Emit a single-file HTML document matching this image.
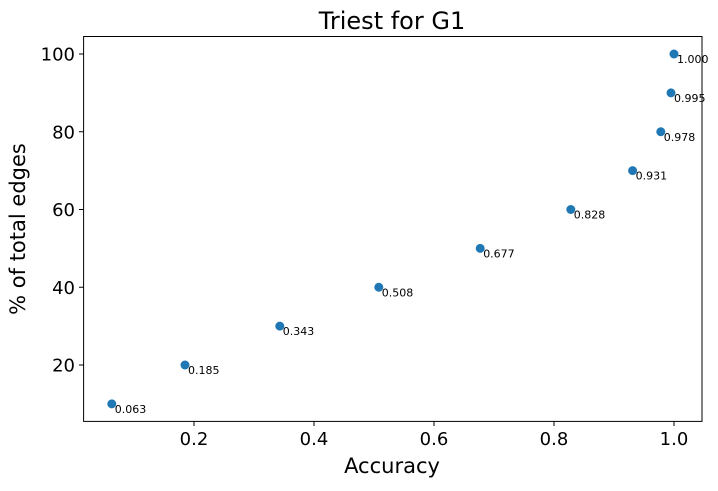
<!DOCTYPE html>
<html><head><meta charset="utf-8"><style>
html,body{margin:0;padding:0;background:#fff;}
svg text{font-family:"DejaVu Sans","Liberation Sans",sans-serif;fill:#000;}
</style></head><body>
<svg id="chart" width="718" height="486" xmlns="http://www.w3.org/2000/svg">
<text x="392" y="29" font-size="24" text-anchor="middle">Triest for G1</text>
<rect x="83.6" y="36.5" width="618.4" height="384.9" fill="none" stroke="#000" stroke-width="1"/>
<g id="xticks"></g><g id="yticks"></g><g id="points"></g>
<text x="392" y="473" font-size="21" text-anchor="middle">Accuracy</text>
<text transform="translate(25,229) rotate(-90)" font-size="21" text-anchor="middle">% of total edges</text>
</svg>
<script>
const accuracy=[0.063,0.185,0.343,0.508,0.677,0.828,0.931,0.978,0.995,1.000];
const edgesPct=[10,20,30,40,50,60,70,80,90,100];
const pointLabels=["0.063","0.185","0.343","0.508","0.677","0.828","0.931","0.978","0.995","1.000"];
const xTicks=[0.2,0.4,0.6,0.8,1.0];
const xTickLabels=["0.2","0.4","0.6","0.8","1.0"];
const yTicks=[20,40,60,80,100];
const yTickLabels=["20","40","60","80","100"];
const NS="http://www.w3.org/2000/svg";
const X=v=>74+600*v;
const Y=v=>442.75-3.8875*v;
function mk(tag,attrs,parent){const e=document.createElementNS(NS,tag);for(const k in attrs)e.setAttribute(k,attrs[k]);parent.appendChild(e);return e;}
const xg=document.getElementById('xticks'),yg=document.getElementById('yticks'),pg=document.getElementById('points');
xTicks.forEach((t,i)=>{
 const l=mk('line',{x1:X(t),x2:X(t),y1:421.4,y2:426,stroke:'#000'},xg);
 
 
 const tx=mk('text',{x:X(t),y:445,'font-size':'18','text-anchor':'middle'},xg);tx.textContent=xTickLabels[i];
 
 
});
yTicks.forEach((t,i)=>{
 const l=mk('line',{x1:79,x2:83.6,y1:Y(t),y2:Y(t),stroke:'#000'},yg);
 
 
 const tx=mk('text',{x:75,y:Y(t)+6.5,'font-size':'18','text-anchor':'end'},yg);tx.textContent=yTickLabels[i];
 
 
});
accuracy.forEach((a,i)=>{
 const c=mk('circle',{cx:X(a),cy:Y(edgesPct[i]),r:4.5,fill:'#1f77b4'},pg);
 
 
 const tx=mk('text',{x:X(a)+3,y:Y(edgesPct[i])+9,'font-size':'11'},pg);tx.textContent=pointLabels[i];
 
 
});
</script>
</body></html>
